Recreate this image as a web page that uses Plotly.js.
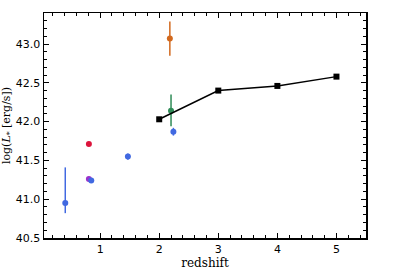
<!DOCTYPE html>
<html><head><meta charset="utf-8">
<script src="https://cdn.plot.ly/plotly-3.0.1.min.js"></script>
<style>body{margin:0;background:#fff}#c{width:407px;height:271px}</style>
</head><body><div id="c"></div>
<script>
// Individual measurements
const ptZ    = [0.41, 0.81, 0.81, 0.85, 1.47, 2.24, 2.20, 2.18];
const ptL    = [40.95, 41.71, 41.26, 41.24, 41.55, 41.87, 42.14, 43.07];
const ptErrUp= [0.46, 0.0, 0.03, 0.03, 0.04, 0.05, 0.21, 0.22];
const ptErrDn= [0.13, 0.0, 0.03, 0.03, 0.04, 0.05, 0.20, 0.22];
const ptColor= ['#4169e1','#dc143c','#9932cc','#4169e1','#4169e1','#4169e1','#2e8b57','#d2691e'];
// Black model line
const lineZ = [2, 3, 4, 5];
const lineL = [42.03, 42.40, 42.46, 42.58];

const traces = [];
for (let i = 0; i < ptZ.length; i++) {
  traces.push({
    x: [ptZ[i]], y: [ptL[i]], mode: 'markers', type: 'scatter',
    marker: {color: ptColor[i], size: 6},
    error_y: {type: 'data', symmetric: false, array: [ptErrUp[i]], arrayminus: [ptErrDn[i]],
              color: ptColor[i], thickness: 1.5, width: 0, visible: ptErrUp[i] > 0}
  });
}
traces.push({x: lineZ, y: lineL, mode: 'lines+markers', type: 'scatter',
  line: {color: '#000', width: 1.5}, marker: {color: '#000', symbol: 'square', size: 6}});

const axisCommon = {
  showline: true, linecolor: '#000', linewidth: 1.5, mirror: 'allticks',
  ticks: 'inside', ticklen: 5, tickwidth: 1, tickcolor: '#000',
  showgrid: false, zeroline: false,
  tickfont: {family: 'DejaVu Sans', size: 11, color: '#000'}
};
const layout = {
  width: 407, height: 271,
  margin: {l: 44, r: 41, t: 13, b: 33},
  paper_bgcolor: '#fff', plot_bgcolor: '#fff',
  showlegend: false,
  xaxis: Object.assign({}, axisCommon, {
    range: [0.05, 5.5], tickvals: [1,2,3,4,5], ticktext: ['1','2','3','4','5'],
    minor: {dtick: 0.2, tick0: 0, ticks: 'inside', ticklen: 3, tickcolor: '#000', showgrid: false},
    title: {text: 'redshift', font: {family: 'DejaVu Serif', size: 12, color: '#000'}, standoff: 4}
  }),
  yaxis: Object.assign({}, axisCommon, {
    range: [40.5, 43.4], tickvals: [40.5,41,41.5,42,42.5,43],
    ticktext: ['40.5','41.0','41.5','42.0','42.5','43.0'],
    minor: {dtick: 0.1, tick0: 40.5, ticks: 'inside', ticklen: 3, tickcolor: '#000', showgrid: false},
    title: {text: 'log(<i>L</i><sub>*</sub> [erg/s])', font: {family: 'DejaVu Serif', size: 11, color: '#000'}, standoff: 6}
  })
};
Plotly.newPlot('c', traces, layout, {displayModeBar: false, staticPlot: true});
</script></body></html>
